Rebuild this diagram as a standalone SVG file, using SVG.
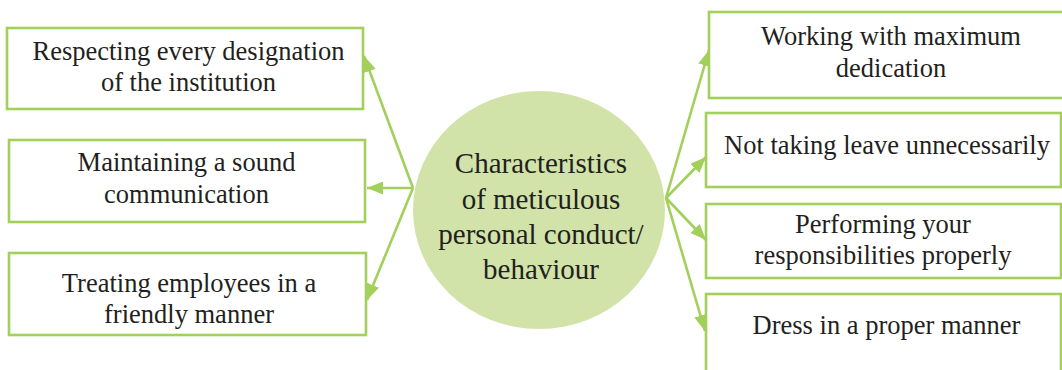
<svg xmlns="http://www.w3.org/2000/svg" width="1062" height="370" viewBox="0 0 1062 370">
<defs>
<marker id="arr" markerUnits="userSpaceOnUse" markerWidth="17" markerHeight="13" refX="16" refY="6.5" orient="auto">
<path d="M0,0 L16,6.5 L0,13 z" fill="#a3cf5b"/>
</marker>
<style>
.box{fill:#ffffff;stroke:#a3cf5b;stroke-width:2.6}
.t{font-family:"Liberation Serif","Times New Roman",serif;font-size:26.5px;fill:#231f20;text-anchor:middle}
.c{font-family:"Liberation Serif","Times New Roman",serif;font-size:29px;fill:#231f20;text-anchor:middle}
.ln{stroke:#a3cf5b;stroke-width:2.6;fill:none;marker-end:url(#arr)}
</style>
</defs>
<rect width="1062" height="370" fill="#ffffff"/>

<g id="center">
<ellipse cx="539" cy="210" rx="126" ry="119" fill="#d1e3a9"/>
<text class="c" x="541" y="173">Characteristics</text>
<text class="c" x="541" y="208.5">of meticulous</text>
<text class="c" x="541" y="243.5">personal conduct/</text>
<text class="c" x="541" y="278.5">behaviour</text>
</g>

<g id="connectors">
<line class="ln" x1="413" y1="188" x2="364" y2="56"/>
<line class="ln" x1="413" y1="188" x2="367" y2="188"/>
<line class="ln" x1="413" y1="188" x2="367" y2="300"/>
<line class="ln" x1="666" y1="198" x2="709" y2="50"/>
<line class="ln" x1="666" y1="198" x2="706" y2="157"/>
<line class="ln" x1="666" y1="198" x2="706" y2="240"/>
<line class="ln" x1="666" y1="198" x2="705" y2="331"/>
</g>

<g id="left1">
<rect class="box" x="7" y="28" width="356" height="81"/>
<text class="t" x="188.5" y="60">Respecting every designation</text>
<text class="t" x="188.5" y="91">of the institution</text>
</g>
<g id="left2">
<rect class="box" x="9" y="140" width="356" height="82"/>
<text class="t" x="186.5" y="171">Maintaining a sound</text>
<text class="t" x="186.5" y="203">communication</text>
</g>
<g id="left3">
<rect class="box" x="9" y="253" width="357" height="82"/>
<text class="t" x="189" y="292">Treating employees in a</text>
<text class="t" x="189" y="323">friendly manner</text>
</g>

<g id="right1">
<rect class="box" x="709" y="12" width="360" height="86"/>
<text class="t" x="891" y="45">Working with maximum</text>
<text class="t" x="891" y="77">dedication</text>
</g>
<g id="right2">
<rect class="box" x="706" y="113" width="355" height="74"/>
<text class="t" x="887" y="154">Not taking leave unnecessarily</text>
</g>
<g id="right3">
<rect class="box" x="706" y="204" width="355" height="74"/>
<text class="t" x="883" y="233">Performing your</text>
<text class="t" x="883" y="264">responsibilities properly</text>
</g>
<g id="right4">
<rect class="box" x="706" y="294" width="355" height="90"/>
<text class="t" x="886.5" y="334">Dress in a proper manner</text>
</g>
</svg>
